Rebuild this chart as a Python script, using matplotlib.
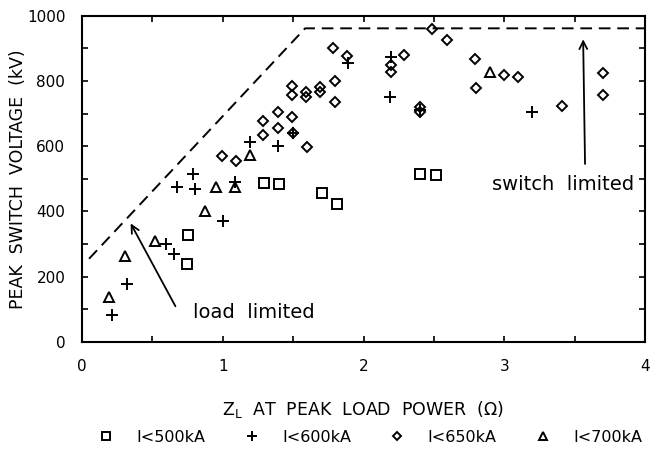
import matplotlib
matplotlib.use("Agg")
import matplotlib.pyplot as plt
from matplotlib.ticker import MultipleLocator

# data: Z_L (ohm) vs peak switch voltage (kV)
sq_x = [0.744, 0.755, 1.295, 1.40, 1.707, 1.81, 2.40, 2.515]
sq_y = [240, 327, 488, 484, 455, 422, 514, 511]

plus_x = [0.21, 0.322, 0.60, 0.65, 0.673, 0.79, 0.80, 1.0, 1.087, 1.19,
          1.395, 1.497, 1.888, 2.193, 2.19, 2.40, 3.20]
plus_y = [82, 179, 300, 269, 475, 514, 470, 371, 491, 613,
          600, 641, 854, 874, 751, 712, 704]

dia_x = [0.992, 1.094, 1.288, 1.288, 1.39, 1.39, 1.49, 1.497, 1.49, 1.49,
         1.59, 1.59, 1.60, 1.69, 1.69, 1.786, 1.80, 1.80, 1.88, 2.193,
         2.193, 2.288, 2.40, 2.40, 2.49, 2.59, 2.79, 2.80, 3.0, 3.10,
         3.41, 3.70, 3.70]
dia_y = [571, 555, 634, 678, 656, 706, 688, 641, 757, 785,
         751, 765, 598, 765, 780, 900, 800, 736, 876, 849,
         828, 879, 719, 704, 958, 925, 867, 777, 819, 811,
         723, 823, 756]

tri_x = [0.194, 0.305, 0.519, 0.874, 0.952, 1.087, 1.19, 2.90]
tri_y = [138, 263, 310, 401, 475, 475, 573, 826]

# limit envelope (dashed)
lim_x = [0.05, 1.585, 4.0]
lim_y = [255, 961, 961]

labels = ["I<500kA", "I<600kA", "I<650kA", "I<700kA"]

fig = plt.figure(figsize=(6.53, 4.51), dpi=100)
ax = fig.add_axes([0.1256, 0.2417, 0.8622, 0.7237])

mk = dict(linestyle="none", color="black", mfc="none", mew=1.4)
h1, = ax.plot(sq_x, sq_y, marker="s", ms=6.5, **mk)
h2, = ax.plot(plus_x, plus_y, marker="+", ms=8, **mk)
h3, = ax.plot(dia_x, dia_y, marker="D", ms=5.3, **mk)
h4, = ax.plot(tri_x, tri_y, marker="^", ms=6.5, **mk)

ax.plot(lim_x, lim_y, color="black", lw=1.4, dashes=(6, 3.5))

ax.annotate("", xy=(0.336, 371), xytext=(0.673, 102),
            arrowprops=dict(arrowstyle="->", color="black", lw=1.3,
                            mutation_scale=14))
ax.text(1.22, 90, "load  limited", fontsize=14, ha="center", va="center")

ax.annotate("", xy=(3.56, 936), xytext=(3.574, 537),
            arrowprops=dict(arrowstyle="->", color="black", lw=1.3,
                            mutation_scale=14))
ax.text(3.42, 484, "switch  limited", fontsize=14, ha="center", va="center")

ax.set_xlim(0, 4)
ax.set_ylim(0, 1000)
ax.xaxis.set_major_locator(MultipleLocator(1))
ax.xaxis.set_minor_locator(MultipleLocator(0.5))
ax.yaxis.set_major_locator(MultipleLocator(200))
ax.yaxis.set_minor_locator(MultipleLocator(100))
ax.tick_params(which="both", direction="in", top=True, right=True,
               length=4, width=1.2, labelsize=11)
ax.tick_params(axis="y", pad=12)
ax.tick_params(axis="x", pad=12)
for s in ax.spines.values():
    s.set_linewidth(1.5)

ax.set_xlabel(r"Z$_{\rm L}$  AT  PEAK  LOAD  POWER  (Ω)", fontsize=12.5)
ax.xaxis.set_label_coords(0.5, -0.175)
ax.set_ylabel("PEAK  SWITCH  VOLTAGE  (kV)", fontsize=12.5)
ax.yaxis.set_label_coords(-0.098, 0.5)

fig.legend([h1, h2, h3, h4], labels, loc="center",
           bbox_to_anchor=(0.567, 0.03), ncol=4, frameon=False,
           fontsize=11.5, handlelength=1.0, handletextpad=1.4,
           columnspacing=2.4, markerscale=0.85)

fig.savefig("out.png", dpi=100)
